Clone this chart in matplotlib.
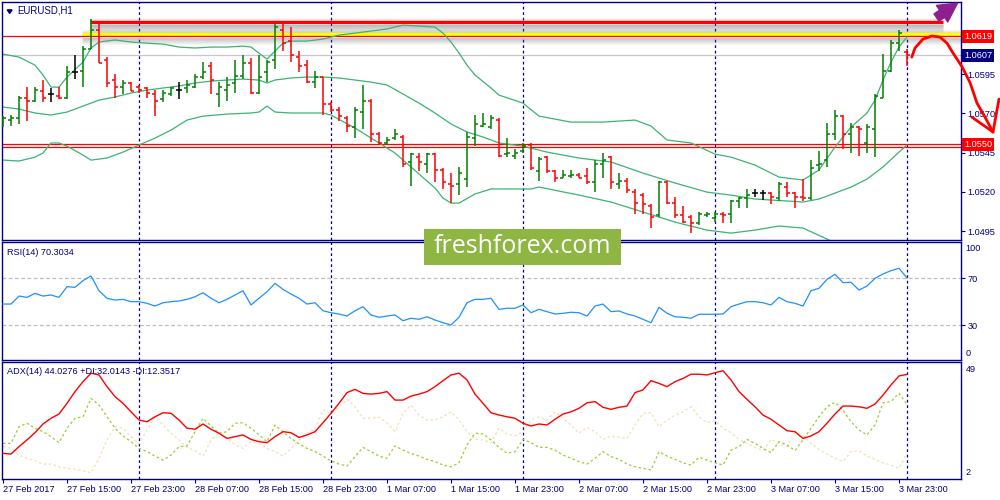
import matplotlib
matplotlib.use("Agg")
import matplotlib.pyplot as plt
from matplotlib.transforms import blended_transform_factory
from matplotlib.patches import Rectangle, FancyArrowPatch
import numpy as np

plt.rcParams['font.family'] = ['Liberation Sans', 'DejaVu Sans']

# ---------------- data ----------------
symbol_title = "EURUSD,H1"
rsi_title = "RSI(14) 70.3034"
adx_title = "ADX(14) 44.0276 +DI:32.0143 -DI:12.3517"

bar_open = [1.0566, 1.0566, 1.0567, 1.0580, 1.0578, 1.0584, 1.0582, 1.0581, 1.0580, 1.0596,
            1.0597, 1.0611, 1.0623, 1.0604, 1.0591, 1.0587, 1.0589, 1.0587, 1.0586, 1.0582,
            1.0579, 1.0582, 1.0585, 1.0586, 1.0587, 1.0593, 1.0600, 1.0582, 1.0585, 1.0589,
            1.0594, 1.0602, 1.0583, 1.0596, 1.0604, 1.0623, 1.0616, 1.0606, 1.0601, 1.0590,
            1.0593, 1.0576, 1.0572, 1.0567, 1.0561, 1.0571, 1.0578, 1.0557, 1.0551, 1.0554,
            1.0555, 1.0539, 1.0542, 1.0538, 1.0544, 1.0534, 1.0525, 1.0525, 1.0528, 1.0554,
            1.0562, 1.0561, 1.0566, 1.0544, 1.0543, 1.0546, 1.0550, 1.0533, 1.0542, 1.0533,
            1.0529, 1.0530, 1.0531, 1.0530, 1.0526, 1.0538, 1.0542, 1.0525, 1.0527, 1.0520,
            1.0518, 1.0511, 1.0505, 1.0526, 1.0513, 1.0505, 1.0504, 1.0500, 1.0505, 1.0503,
            1.0506, 1.0506, 1.0514, 1.0516, 1.0519, 1.0519, 1.0519, 1.0516, 1.0523, 1.0519,
            1.0517, 1.0516, 1.0537, 1.0540, 1.0557, 1.0568, 1.0557, 1.0561, 1.0551, 1.0560,
            1.0580, 1.0597, 1.0615, 1.0609]
bar_high = [1.0568, 1.0569, 1.0581, 1.0587, 1.0587, 1.0591, 1.0586, 1.0587, 1.0600, 1.0607,
            1.0613, 1.0630, 1.0628, 1.0606, 1.0595, 1.0591, 1.0590, 1.0588, 1.0587, 1.0585,
            1.0585, 1.0587, 1.0590, 1.0591, 1.0595, 1.0603, 1.0603, 1.0590, 1.0593, 1.0604,
            1.0607, 1.0605, 1.0607, 1.0604, 1.0627, 1.0627, 1.0625, 1.0610, 1.0604, 1.0597,
            1.0593, 1.0577, 1.0574, 1.0568, 1.0574, 1.0588, 1.0579, 1.0558, 1.0555, 1.0560,
            1.0556, 1.0545, 1.0545, 1.0545, 1.0545, 1.0535, 1.0532, 1.0536, 1.0558, 1.0569,
            1.0570, 1.0569, 1.0567, 1.0554, 1.0547, 1.0551, 1.0551, 1.0542, 1.0543, 1.0534,
            1.0534, 1.0534, 1.0532, 1.0535, 1.0540, 1.0545, 1.0543, 1.0532, 1.0529, 1.0522,
            1.0519, 1.0512, 1.0527, 1.0527, 1.0517, 1.0511, 1.0505, 1.0507, 1.0507, 1.0507,
            1.0507, 1.0515, 1.0517, 1.0522, 1.0522, 1.0521, 1.0520, 1.0526, 1.0526, 1.0520,
            1.0528, 1.0540, 1.0546, 1.0564, 1.0572, 1.0569, 1.0564, 1.0562, 1.0563, 1.0582,
            1.0608, 1.0617, 1.0623, 1.0611]
bar_low = [1.0561, 1.0562, 1.0563, 1.0565, 1.0577, 1.0577, 1.0577, 1.0579, 1.0579, 1.0592,
           1.0587, 1.0611, 1.0602, 1.0587, 1.0580, 1.0582, 1.0584, 1.0583, 1.0580, 1.0568,
           1.0577, 1.0581, 1.0579, 1.0583, 1.0586, 1.0592, 1.0582, 1.0574, 1.0578, 1.0583,
           1.0592, 1.0582, 1.0582, 1.0590, 1.0598, 1.0610, 1.0603, 1.0596, 1.0589, 1.0586,
           1.0569, 1.0571, 1.0565, 1.0558, 1.0554, 1.0560, 1.0552, 1.0550, 1.0550, 1.0553,
           1.0536, 1.0524, 1.0533, 1.0532, 1.0526, 1.0522, 1.0513, 1.0518, 1.0523, 1.0549,
           1.0561, 1.0560, 1.0542, 1.0542, 1.0541, 1.0545, 1.0534, 1.0527, 1.0532, 1.0526,
           1.0529, 1.0529, 1.0529, 1.0525, 1.0520, 1.0529, 1.0522, 1.0522, 1.0519, 1.0506,
           1.0506, 1.0497, 1.0504, 1.0512, 1.0503, 1.0500, 1.0494, 1.0499, 1.0504, 1.0501,
           1.0500, 1.0500, 1.0510, 1.0510, 1.0517, 1.0515, 1.0512, 1.0514, 1.0517, 1.0510,
           1.0514, 1.0515, 1.0533, 1.0536, 1.0553, 1.0547, 1.0545, 1.0543, 1.0545, 1.0542,
           1.0580, 1.0596, 1.0610, 1.0600]
bar_close = [1.0567, 1.0567, 1.0580, 1.0578, 1.0585, 1.0580, 1.0582, 1.0580, 1.0596, 1.0596,
             1.0611, 1.0623, 1.0602, 1.0589, 1.0587, 1.0589, 1.0584, 1.0585, 1.0583, 1.0578,
             1.0583, 1.0586, 1.0585, 1.0588, 1.0593, 1.0596, 1.0591, 1.0587, 1.0588, 1.0594,
             1.0602, 1.0583, 1.0593, 1.0603, 1.0625, 1.0615, 1.0607, 1.0600, 1.0590, 1.0593,
             1.0576, 1.0572, 1.0568, 1.0562, 1.0572, 1.0578, 1.0557, 1.0551, 1.0553, 1.0557,
             1.0538, 1.0544, 1.0539, 1.0544, 1.0534, 1.0526, 1.0524, 1.0532, 1.0555, 1.0563,
             1.0563, 1.0567, 1.0543, 1.0545, 1.0545, 1.0549, 1.0535, 1.0541, 1.0533, 1.0529,
             1.0531, 1.0531, 1.0529, 1.0526, 1.0538, 1.0540, 1.0526, 1.0527, 1.0521, 1.0513,
             1.0512, 1.0504, 1.0526, 1.0513, 1.0505, 1.0501, 1.0500, 1.0506, 1.0506, 1.0506,
             1.0505, 1.0514, 1.0516, 1.0518, 1.0519, 1.0519, 1.0517, 1.0525, 1.0519, 1.0517,
             1.0516, 1.0535, 1.0538, 1.0557, 1.0568, 1.0557, 1.0561, 1.0560, 1.0561, 1.0581,
             1.0597, 1.0615, 1.0621, 1.0607]

# Bollinger bands, read at selected bars (bar index, price)
bb_upper_idx = [0, 2, 4, 5, 6, 7, 8, 10, 11, 12, 14, 16, 18, 20, 22, 24, 26, 28, 30, 31,
                32, 33, 34, 35, 36, 38, 40, 42, 44, 46, 48, 50, 52, 54, 55, 56, 57, 58, 59, 61,
                62, 65, 67, 71, 75, 79, 81, 83, 86, 89, 91, 94, 97, 100, 102, 104, 106, 108,
                109, 110, 111, 112, 113]
bb_upper = [1.06077, 1.06058, 1.06007, 1.05944, 1.05867, 1.05867, 1.05931, 1.06026, 1.06116,
            1.06154, 1.06167, 1.06154, 1.06147, 1.06141, 1.06122, 1.06116, 1.06122, 1.06122,
            1.06128, 1.06122, 1.06083, 1.06046, 1.06096, 1.06147, 1.06160, 1.06160, 1.06173,
            1.06198, 1.06211, 1.06224, 1.06237, 1.06262, 1.06256, 1.06249, 1.06211, 1.06154,
            1.06084, 1.06007, 1.05944, 1.05861, 1.05816, 1.05765, 1.05682, 1.05644, 1.05644,
            1.05657, 1.05619, 1.05530, 1.05511, 1.05440, 1.05421, 1.05370, 1.05294, 1.05275,
            1.05339, 1.05485, 1.05612, 1.05702, 1.05784, 1.05912, 1.06026, 1.06122, 1.06186]
bb_mid_idx = [0, 2, 4, 6, 8, 10, 12, 14, 16, 18, 20, 22, 24, 26, 28, 30, 32, 33, 34, 36,
              38, 40, 42, 44, 46, 48, 50, 52, 54, 56, 58, 60, 62, 65, 68, 72, 76, 80, 84, 88,
              91, 94, 100, 102, 106, 108, 110, 112, 113]
bb_mid = [1.05740, 1.05727, 1.05702, 1.05689, 1.05708, 1.05746, 1.05784, 1.05804, 1.05829,
          1.05848, 1.05861, 1.05874, 1.05893, 1.05905, 1.05912, 1.05918, 1.05912, 1.05893,
          1.05912, 1.05925, 1.05931, 1.05931, 1.05925, 1.05912, 1.05899, 1.05880, 1.05823,
          1.05765, 1.05702, 1.05632, 1.05581, 1.05549, 1.05511, 1.05491, 1.05453, 1.05415,
          1.05390, 1.05319, 1.05256, 1.05198, 1.05179, 1.05154, 1.05135, 1.05154, 1.05230,
          1.05281, 1.05358, 1.05453, 1.05498]
bb_lower_idx = [0, 2, 4, 5, 6, 7, 8, 10, 11, 13, 15, 17, 19, 21, 23, 25, 28, 31, 32, 33,
                34, 36, 40, 41, 44, 47, 49, 51, 54, 55, 56, 57, 59, 61, 64, 66, 67, 72, 76, 80,
                84, 88, 91, 94, 97, 100, 103, 104]
bb_lower = [1.05402, 1.05396, 1.05421, 1.05447, 1.05511, 1.05511, 1.05491, 1.05434, 1.05402,
            1.05415, 1.05453, 1.05498, 1.05542, 1.05593, 1.05657, 1.05682, 1.05695, 1.05702,
            1.05708, 1.05746, 1.05708, 1.05702, 1.05702, 1.05689, 1.05606, 1.05511, 1.05447,
            1.05358, 1.05224, 1.05160, 1.05128, 1.05128, 1.05186, 1.05218, 1.05218, 1.05218,
            1.05230, 1.05179, 1.05135, 1.05071, 1.05007, 1.04956, 1.04937, 1.04956, 1.04982,
            1.04969, 1.04899, 1.04874]

rsi = [48.1, 48.1, 54.9, 53.8, 57.2, 54.9, 55.8, 53.8, 62.9, 62.3,
       68.0, 72.0, 59.4, 53.0, 51.5, 52.1, 50.1, 50.1, 48.7, 46.4,
       49.2, 50.1, 50.7, 52.1, 54.3, 57.7, 53.0, 49.2, 52.1, 55.8,
       59.4, 47.3, 53.0, 58.6, 65.7, 60.6, 56.6, 53.0, 48.1, 49.2,
       42.4, 40.7, 39.6, 37.9, 42.4, 45.8, 38.8, 36.8, 37.9, 38.8,
       33.9, 36.0, 35.1, 37.3, 34.5, 32.2, 30.3, 36.8, 49.2, 52.1,
       52.1, 53.0, 43.6, 44.5, 44.5, 47.3, 40.7, 43.6, 41.6, 39.6,
       40.2, 41.1, 40.7, 37.9, 46.4, 48.1, 41.6, 42.2, 39.6, 37.9,
       35.1, 32.2, 45.3, 40.2, 37.3, 36.8, 36.0, 39.4, 39.4, 39.4,
       39.6, 45.8, 48.1, 50.1, 50.1, 49.2, 47.3, 53.8, 50.1, 48.7,
       46.4, 59.4, 61.5, 69.1, 73.4, 66.3, 66.6, 60.0, 63.4, 70.0,
       73.7, 76.5, 78.5, 70.3]

adx = [12.3, 12.0, 15.0, 17.7, 20.6, 24.1, 26.4, 28.1, 32.4, 37.1,
       41.1, 44.5, 43.8, 39.1, 35.1, 32.4, 29.0, 25.7, 25.0, 27.0,
       28.6, 28.4, 25.7, 22.4, 22.0, 24.1, 22.0, 20.4, 18.3, 19.0,
       19.7, 17.9, 17.0, 16.6, 19.0, 21.0, 20.6, 18.7, 19.7, 21.0,
       24.6, 28.4, 32.4, 36.7, 38.0, 36.4, 36.1, 36.4, 37.1, 33.7,
       33.7, 35.3, 36.1, 37.1, 39.1, 41.5, 43.8, 44.5, 41.8, 36.1,
       32.4, 28.6, 27.7, 27.0, 26.4, 24.4, 23.3, 24.1, 23.7, 26.0,
       28.1, 29.0, 30.4, 32.6, 33.1, 30.8, 30.0, 30.8, 31.3, 36.7,
       37.8, 41.5, 40.4, 39.1, 41.1, 42.4, 44.1, 44.1, 43.8, 44.7,
       45.5, 41.8, 37.1, 34.0, 31.0, 27.7, 26.0, 23.7, 21.4, 21.0,
       18.3, 19.3, 21.0, 24.4, 28.1, 31.3, 31.3, 31.0, 30.4, 32.1,
       35.7, 39.8, 43.4, 44.03]
plus_di = [16.3, 16.3, 23.0, 24.4, 22.4, 21.0, 19.0, 16.6, 22.4, 26.4,
           27.0, 34.4, 31.7, 27.0, 22.4, 19.3, 17.0, 14.3, 13.0, 11.2,
           9.6, 11.6, 15.0, 15.3, 21.0, 26.4, 23.3, 20.4, 21.0, 24.4,
           24.6, 22.4, 19.7, 17.0, 23.7, 21.0, 18.3, 16.1, 14.3, 13.0,
           11.2, 9.3, 8.0, 7.2, 11.0, 14.7, 13.0, 11.2, 10.3, 15.3,
           13.6, 12.3, 11.2, 9.9, 9.0, 7.6, 6.9, 8.5, 15.7, 20.4,
           20.1, 17.7, 14.7, 12.3, 13.0, 17.9, 16.6, 14.7, 14.7, 13.6,
           11.6, 10.3, 9.0, 8.0, 10.3, 13.0, 11.0, 9.9, 8.0, 6.9,
           6.3, 5.6, 13.0, 11.2, 9.9, 8.5, 7.6, 10.7, 9.6, 8.5,
           7.6, 13.6, 15.0, 17.9, 16.3, 14.3, 12.6, 17.0, 15.7, 13.4,
           17.7, 22.4, 27.0, 31.0, 32.8, 29.7, 25.0, 21.7, 19.7, 23.7,
           32.6, 33.1, 36.4, 32.01]
minus_di = [15.0, 14.3, 11.6, 10.3, 9.3, 8.0, 8.0, 6.9, 6.3, 5.9,
            5.3, 4.5, 10.3, 17.7, 23.0, 22.4, 19.0, 16.1, 21.7, 27.0,
            23.7, 20.4, 17.7, 14.7, 13.4, 11.2, 17.7, 20.4, 18.3, 15.7,
            14.3, 17.0, 16.1, 14.3, 13.0, 11.2, 14.3, 17.7, 20.1, 22.4,
            29.7, 28.4, 31.0, 34.0, 31.0, 26.4, 26.4, 26.8, 24.6, 21.0,
            28.4, 31.7, 27.7, 25.7, 25.7, 27.0, 29.0, 25.7, 21.0, 17.9,
            17.7, 16.6, 22.4, 20.1, 19.3, 21.0, 25.7, 27.0, 25.7, 29.0,
            26.4, 23.7, 20.4, 22.8, 21.0, 17.9, 19.3, 18.7, 18.3, 23.7,
            28.4, 28.6, 23.0, 25.7, 27.7, 29.0, 31.0, 27.0, 24.6, 25.4,
            22.4, 20.6, 17.9, 16.3, 14.7, 13.4, 17.9, 16.1, 15.0, 20.6,
            19.3, 16.3, 13.9, 12.0, 10.3, 9.0, 13.0, 13.4, 11.2, 9.9,
            8.5, 7.6, 6.3, 12.35]

time_tick_idx = list(range(0, 113, 8))
time_tick_labels = ['27 Feb 2017', '27 Feb 15:00', '27 Feb 23:00', '28 Feb 07:00', '28 Feb 15:00',
                    '28 Feb 23:00', '1 Mar 07:00', '1 Mar 15:00', '1 Mar 23:00', '2 Mar 07:00',
                    '2 Mar 15:00', '2 Mar 23:00', '3 Mar 07:00', '3 Mar 15:00', '3 Mar 23:00']
day_separators = [17, 41, 65, 89, 113]
price_ticks = [1.0595, 1.0570, 1.0545, 1.0520, 1.0495]

resistance_thick = 1.06281      # thick red line
resistance_thick_span = (10.9, 117.5)
yellow_level = 1.06204
yellow_span_start = 9.9
level_1 = 1.0619
level_2 = [1.05502, 1.05485]
bid_price = 1.0607

forecast_i = [113.6, 114.0, 115.0, 116.1, 117.1, 118.0, 118.75, 119.9, 120.9, 121.75, 122.75, 123.75]
forecast_p = [1.06058, 1.06116, 1.06173, 1.06192, 1.06186, 1.06147, 1.06084, 1.05995, 1.05893,
              1.05765, 1.05676, 1.05581]
forecast_head_a = ([121.1, 123.75], [1.05676, 1.05581])
forecast_head_b = ([124.5, 123.75], [1.05791, 1.05581])
up_arrow = ((116.4, 1.06300), (119.6, 1.06412))

# ---------------- style ----------------
NAVY = '#000080'
GREEN_BAR = '#008000'
RED = '#FF0000'
BB_COL = '#3CB371'
FS = 6.6
W, H = 1000, 500


def rect(l, t, r, b):
    return [l / W, 1 - b / H, (r - l) / W, (b - t) / H]


fig = plt.figure(figsize=(10, 5), dpi=100)
fig.patch.set_facecolor('white')
ax_p = fig.add_axes(rect(2, 2, 961, 240))
ax_r = fig.add_axes(rect(2, 242, 961, 360))
ax_a = fig.add_axes(rect(2, 362, 961, 479))

XL = (-0.125, 119.75)
for ax in (ax_p, ax_r, ax_a):
    ax.set_xlim(*XL)
    for s in ax.spines.values():
        s.set_color(NAVY)
        s.set_linewidth(1.0)
    for d in day_separators:
        ax.axvline(d, color=NAVY, lw=0.9, ls=(0, (2.2, 2.2)), zorder=1)
    ax.set_facecolor('white')

# ---- price panel ----
ax_p.set_ylim(1.04893, 1.06409)
px = (1.06409 - 1.04893) / 238.0

# 3D shadows under the drawn levels
for k in range(1, 10):
    ax_p.plot(resistance_thick_span, [resistance_thick - (1.5 + k) * px] * 2, color='#707070',
              alpha=0.5 * (1 - k / 10.0), lw=0.75, zorder=1.5, solid_capstyle='butt')
for k in range(1, 4):
    ax_p.plot(resistance_thick_span, [resistance_thick + (1.5 + k) * px] * 2, color='#707070',
              alpha=0.25 * (1 - k / 4.0), lw=0.75, zorder=1.5, solid_capstyle='butt')
for k in range(1, 8):
    ax_p.plot([yellow_span_start, XL[1]], [yellow_level - (2.5 + k) * px] * 2, color='#707070',
              alpha=0.45 * (1 - k / 8.0), lw=0.75, zorder=1.5, solid_capstyle='butt')
for k in range(1, 4):
    ax_p.plot([yellow_span_start, XL[1]], [yellow_level + (1.5 + k) * px] * 2, color='#707070',
              alpha=0.3 * (1 - k / 4.0), lw=0.75, zorder=1.5, solid_capstyle='butt')

ax_p.axhline(bid_price, color='#C8C8C8', lw=0.9, zorder=1.6)
ax_p.plot([yellow_span_start, XL[1]], [yellow_level] * 2, color='#FFFF00', lw=2.3, zorder=1.8,
          solid_capstyle='butt')
ax_p.axhline(level_1, color=RED, lw=0.9, zorder=1.9)
for lv in level_2:
    ax_p.axhline(lv, color=RED, lw=0.9, zorder=1.7)
ax_p.plot(resistance_thick_span, [resistance_thick] * 2, color=RED, lw=2.4, zorder=1.8,
          solid_capstyle='butt', clip_on=False)

ax_p.plot(bb_upper_idx, bb_upper, color=BB_COL, lw=0.9, zorder=2)
ax_p.plot(bb_mid_idx, bb_mid, color=BB_COL, lw=0.9, zorder=2)
ax_p.plot(bb_lower_idx, bb_lower, color=BB_COL, lw=0.9, zorder=2)

xi = np.arange(len(bar_open))
bar_cols = [GREEN_BAR if c > o else (RED if c < o else 'black') for o, c in zip(bar_open, bar_close)]
ax_p.vlines(xi, bar_low, bar_high, colors=bar_cols, lw=1.1, zorder=3)
ax_p.hlines(bar_open, xi - 0.42, xi, colors=bar_cols, lw=1.1, zorder=3)
ax_p.hlines(bar_close, xi, xi + 0.42, colors=bar_cols, lw=1.1, zorder=3)

ax_p.yaxis.tick_right()
ax_p.set_yticks(price_ticks)
ax_p.set_yticklabels([f'{v:.4f}' for v in price_ticks])
ax_p.tick_params(axis='y', direction='out', length=3, width=0.8, colors=NAVY, labelsize=FS, pad=1.5)
ax_p.set_xticks([])

trp = blended_transform_factory(ax_p.transAxes, ax_p.transData)
def price_box(v, txt, fc):
    ax_p.text(1.0035, v, txt, transform=trp, color='white', fontsize=FS, va='center', ha='left',
              bbox=dict(boxstyle='square,pad=0.22', fc=fc, ec='none'), zorder=12, clip_on=False)
price_box(level_1, '1.0619', RED)
price_box(bid_price, '1.0607', NAVY)
price_box(1.0550, '1.0550', RED)

# hand drawn forecast path
ax_p.plot(forecast_i, forecast_p, color=RED, lw=2.0, zorder=13, clip_on=False,
          solid_capstyle='round', solid_joinstyle='round')
ax_p.plot(*forecast_head_a, color=RED, lw=2.0, zorder=13, clip_on=False, solid_capstyle='round')
ax_p.plot(*forecast_head_b, color=RED, lw=2.0, zorder=13, clip_on=False, solid_capstyle='round')

arr = FancyArrowPatch(up_arrow[0], up_arrow[1], arrowstyle='simple,head_width=1.6,head_length=1.5,tail_width=0.7',
                      mutation_scale=9, color='#8E1F8E', zorder=13, clip_on=False)
ax_p.add_patch(arr)

ax_p.text(0.016, 0.965, symbol_title, transform=ax_p.transAxes, color=NAVY, fontsize=FS + 0.3,
          va='center', ha='left')
ax_p.fill([0.0055, 0.0105, 0.0080], [0.967, 0.967, 0.952], transform=ax_p.transAxes, color=NAVY)

# ---- RSI panel ----
ax_r.set_ylim(0.47, 100.9)
ax_r.axhline(70, color='#BEBEBE', lw=0.9, ls=(0, (3, 2)), zorder=1)
ax_r.axhline(30, color='#BEBEBE', lw=0.9, ls=(0, (3, 2)), zorder=1)
ax_r.plot(xi, rsi, color='#1E90FF', lw=0.9, zorder=3)
ax_r.yaxis.tick_right()
ax_r.set_yticks([70, 30])
ax_r.set_yticklabels(['70', '30'])
ax_r.tick_params(axis='y', direction='out', length=3, width=0.8, colors=NAVY, labelsize=FS, pad=1.5)
ax_r.set_xticks([])
ax_r.text(1.0045, 95.1, '100', transform=blended_transform_factory(ax_r.transAxes, ax_r.transData),
          color=NAVY, fontsize=FS, va='center', ha='left', clip_on=False)
ax_r.text(1.0045, 6.4, '0', transform=blended_transform_factory(ax_r.transAxes, ax_r.transData),
          color=NAVY, fontsize=FS, va='center', ha='left', clip_on=False)
ax_r.text(0.005, 0.915, rsi_title, transform=ax_r.transAxes, color=NAVY, fontsize=FS,
          va='center', ha='left')

# ---- ADX panel ----
ax_a.set_ylim(2, 49)
ax_a.plot(xi, minus_di, color='#F5DEB3', lw=0.9, ls=(0, (2, 2)), zorder=2)
ax_a.plot(xi, plus_di, color='#9ACD32', lw=0.9, ls=(0, (2, 2)), zorder=2)
ax_a.plot(xi, adx, color=RED, lw=1.0, zorder=3)
ax_a.yaxis.tick_right()
ax_a.set_yticks([])
ta = blended_transform_factory(ax_a.transAxes, ax_a.transData)
ax_a.text(1.0045, 46.1, '49', transform=ta, color=NAVY, fontsize=FS, va='center', ha='left', clip_on=False)
ax_a.text(1.0045, 4.7, '2', transform=ta, color=NAVY, fontsize=FS, va='center', ha='left', clip_on=False)
ax_a.text(0.005, 0.92, adx_title, transform=ax_a.transAxes, color=NAVY, fontsize=FS,
          va='center', ha='left')
ax_a.set_xticks(time_tick_idx)
ax_a.set_xticklabels(time_tick_labels, ha='left')
ax_a.tick_params(axis='x', direction='out', length=3, width=0.8, colors=NAVY, labelsize=FS, pad=1.5)

# ---- watermark ----
fig.add_artist(Rectangle((424 / W, 1 - 265 / H), 197 / W, 36 / H, transform=fig.transFigure,
                         fc='#8FB543', ec='none', zorder=20))
fig.text(522.5 / W, 1 - 246.5 / H, 'freshforex.com', color='white', fontsize=18,
         family=['Open Sans', 'DejaVu Sans'], ha='center', va='center', zorder=21)

fig.savefig('out.png', dpi=100, facecolor='white')
